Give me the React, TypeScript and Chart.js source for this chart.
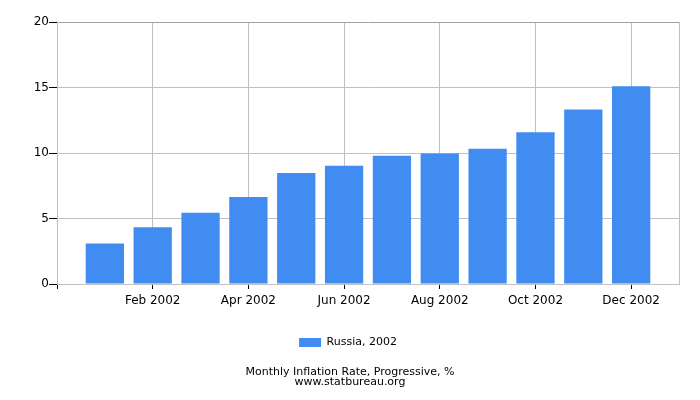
import React, { useEffect, useRef } from "react";
import { Chart, registerables } from "chart.js";

Chart.register(...registerables);

const categories = [
  "Jan 2002", "Feb 2002", "Mar 2002", "Apr 2002", "May 2002", "Jun 2002",
  "Jul 2002", "Aug 2002", "Sep 2002", "Oct 2002", "Nov 2002", "Dec 2002",
];
const values = [3.1, 4.33, 5.43, 6.64, 8.48, 9.02, 9.79, 9.97, 10.33, 11.58, 13.33, 15.1];
const yTicks = [0, 5, 10, 15, 20];
const seriesLabel = "Russia, 2002";
const titleLines = ["Monthly Inflation Rate, Progressive, %", "www.statbureau.org"];

const FONT = "'DejaVu Sans', sans-serif";

const legendShift = {
  id: "legendShift",
  afterLayout(chart: any) {
    if (chart.legend) {
      chart.legend.left -= 2;
      chart.legend.right -= 2;
    }
  },
};

export default function App() {
  const ref = useRef<HTMLCanvasElement>(null);
  useEffect(() => {
    document.body.style.margin = "0";
    const canvas = ref.current;
    if (!canvas) return;
    const chart = new Chart(canvas, {
      type: "bar",
      data: {
        datasets: [
          {
            label: seriesLabel,
            data: values.map((v, i) => ({ x: i + 1, y: v })),
            backgroundColor: "#418cf0",
            borderWidth: 0,
            barPercentage: 0.8,
            categoryPercentage: 1,
          },
        ],
      },
      plugins: [legendShift],
      options: {
        responsive: false,
        animation: false,
        layout: { padding: { top: 22, right: 0, left: 0, bottom: 0 } },
        scales: {
          x: {
            type: "linear",
            offset: false,
            min: 0,
            max: categories.length + 1,
            afterBuildTicks: (scale: any) => {
              const t: any[] = [{ value: 0 }];
              categories.forEach((_, i) => {
                if ((i + 1) % 2 === 0) t.push({ value: i + 1 });
              });
              scale.ticks = t;
            },
            afterFit: (scale: any) => {
              scale.height = 43;
            },
            ticks: {
              autoSkip: false,
              maxRotation: 0,
              padding: 5,
              color: "#000",
              font: { family: FONT, size: 12 },
              callback: (v: any) => (v >= 1 ? categories[v - 1] : ""),
            },
            grid: {
              offset: false,
              color: "#c0c0c0",
              tickColor: "#000",
              tickLength: 5,
            },
            border: { color: "#c0c0c0" },
          },
          y: {
            min: 0,
            max: 20,
            afterBuildTicks: (scale: any) => {
              scale.ticks = yTicks.map((v) => ({ value: v }));
            },
            afterFit: (scale: any) => {
              scale.width = 57;
            },
            ticks: {
              padding: 0,
              color: "#000",
              font: { family: FONT, size: 12 },
            },
            grid: {
              color: (ctx: any) => (ctx.tick && ctx.tick.value === 20 ? "#a0a0a0" : "#c0c0c0"),
              tickColor: "#000",
              tickLength: 8,
            },
            border: { color: "#c0c0c0" },
          },
          yRight: {
            position: "right",
            min: 0,
            max: 20,
            ticks: { display: false },
            grid: { drawOnChartArea: false, drawTicks: false },
            border: { color: "#c0c0c0" },
            afterFit: (scale: any) => {
              scale.width = 21;
            },
          },
        },
        plugins: {
          legend: {
            position: "bottom",
            labels: {
              boxWidth: 22,
              boxHeight: 9,
              padding: 10,
              color: "#000",
              font: { family: FONT, size: 11 },
            },
          },
          title: {
            display: true,
            position: "bottom",
            text: titleLines,
            color: "#000",
            font: { family: FONT, size: 11, weight: "normal", lineHeight: "10px" },
            padding: { top: 9.5, bottom: 12.5 },
          },
          tooltip: { enabled: false },
        },
      },
    } as any);
    return () => chart.destroy();
  }, []);
  return (
    <div style={{ position: "absolute", left: 0, top: 0, width: 700, height: 400 }}>
      <canvas ref={ref} width={700} height={400} style={{ width: 700, height: 400 }} />
    </div>
  );
}
